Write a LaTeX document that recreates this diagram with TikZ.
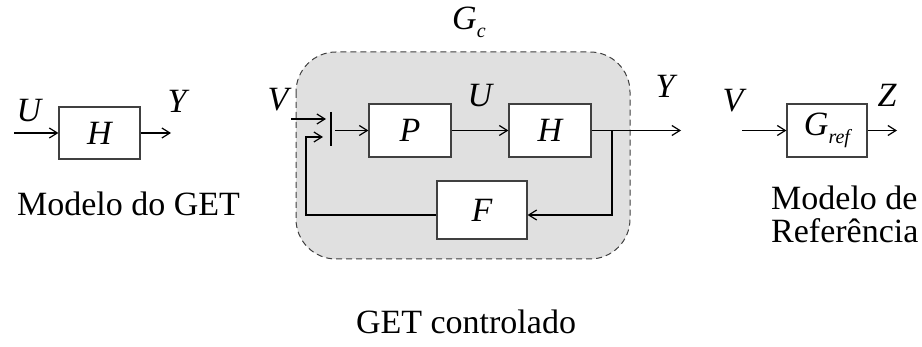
\documentclass[tikz,border=0pt]{standalone}
\usepackage{fontspec}
\setmainfont{Liberation Serif}
\usetikzlibrary{arrows.meta}
\begin{document}
\begin{tikzpicture}[x=1pt,y=-1pt,
  font=\fontsize{34}{40}\selectfont,
  blk/.style={draw=black!75, line width=1.2pt, fill=white, inner sep=0pt,
    font=\fontsize{34}{40}\selectfont\itshape},
  sig/.style={line width=1.2pt, -{Straight Barb[length=8pt,width=10pt,line width=1.2pt]}},
  wire/.style={line width=1.2pt},
  lbl/.style={inner sep=0pt, anchor=base, font=\fontsize{34}{40}\selectfont\itshape},
  caption/.style={inner sep=0pt, anchor=base},
  region/.style={fill=black!12, draw=black!75, dash pattern=on 6pt off 4pt,
    line width=1pt, rounded corners=40pt}]
\useasboundingbox (0,0) rectangle (922,347);

% ---- plant model on its own
\node[blk, minimum width=81pt, minimum height=52pt] (hL) at (99.5,133) {H};
\coordinate (uin) at (14,133);
\coordinate (yout) at (171,133);
\draw[sig] (uin) -- (hL.west);
\draw[sig] (hL.east) -- (yout);
\node[lbl] (uL) at (29,122) {U};
\node[lbl] (yL) at (177,113) {Y};
\node[caption] (capL) at (128.5,216) {Modelo do GET};

% ---- controlled plant
\draw[region] (296,52) rectangle (630,259);
\node[lbl, anchor=base west] (gc) at (452,30)
  {G\raisebox{-8pt}{\fontsize{20}{22}\selectfont c}};

\node[blk, minimum width=82pt, minimum height=53pt] (P) at (410,130.5) {P};
\node[blk, minimum width=82pt, minimum height=53pt] (H) at (550,130.5) {H};
\node[blk, minimum width=90pt, minimum height=58pt] (F) at (482,210) {F};

% summing bar
\coordinate (sumT) at (331,112);
\coordinate (sumB) at (331,146);
\draw[wire] (sumT) -- (sumB);
\coordinate (sumout) at (335,130.5);
\coordinate (vin) at (291,119);
\coordinate (vend) at (326,119);
\coordinate (fbin) at (323,137);
\coordinate (fbL) at (306,215);
\coordinate (fbR) at (612,215);
\coordinate (yc) at (681,130.5);

\draw[sig] (vin) -- (vend);
\draw[sig] (sumout) -- (P.west);
\draw[sig] (P.east) -- (H.west);
\draw[sig] (H.east) -- (yc);
\draw[sig] (H.east) -| (fbR) -- (fbR -| F.east);
\draw[sig] (fbL -| F.west) -- (fbL) |- (fbin);

\node[lbl] (vM) at (278,111) {V};
\node[lbl] (uM) at (480,107) {U};
\node[lbl] (yM) at (665,98) {Y};
\node[caption] (capM) at (466,334) {GET controlado};

% ---- reference model
\node[blk, minimum width=80pt, minimum height=53pt] (G) at (827,130.5)
  {G\raisebox{-8pt}{\fontsize{20}{22}\selectfont ref}};
\coordinate (vr) at (742,130.5);
\coordinate (zr) at (897,130.5);
\draw[sig] (vr) -- (G.west);
\draw[sig] (G.east) -- (zr);
\node[lbl] (vR) at (733,112) {V};
\node[lbl] (zR) at (887,107) {Z};
\node[caption, anchor=base west] (capR1) at (771,210) {Modelo de};
\node[caption, anchor=base west] (capR2) at (771,243) {Referência};
\end{tikzpicture}
\end{document}
